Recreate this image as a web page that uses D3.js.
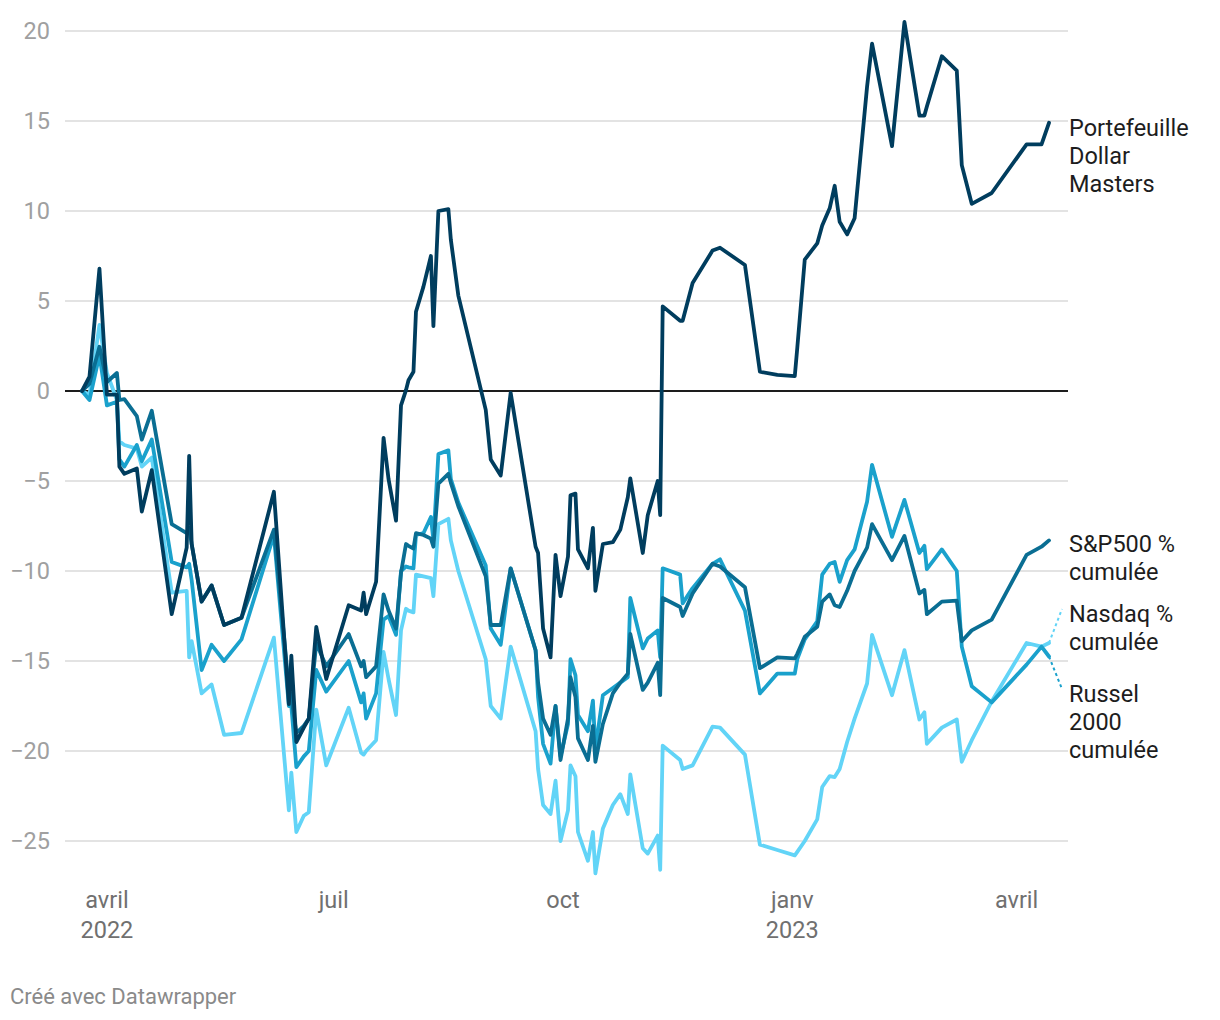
<!DOCTYPE html>
<html><head><meta charset="utf-8">
<script src="https://cdn.jsdelivr.net/npm/d3@7"></script>
<style>body{margin:0;background:#fff}svg{font-family:Roboto,sans-serif}</style>
</head><body><svg id="c" width="1220" height="1020"></svg>
<script>
const dates = ["2022-03-22","2022-03-25","2022-03-29","2022-04-01","2022-04-05","2022-04-06","2022-04-08","2022-04-13","2022-04-15","2022-04-19",
"2022-04-27","2022-05-03","2022-05-04","2022-05-05","2022-05-09","2022-05-13","2022-05-18","2022-05-25","2022-06-07","2022-06-13",
"2022-06-14","2022-06-16","2022-06-19","2022-06-21","2022-06-24","2022-06-28","2022-07-07","2022-07-12","2022-07-13","2022-07-14",
"2022-07-18","2022-07-21","2022-07-23","2022-07-26","2022-07-28","2022-07-30","2022-07-31","2022-08-02","2022-08-03","2022-08-06",
"2022-08-09","2022-08-10","2022-08-12","2022-08-16","2022-08-17","2022-08-20","2022-08-31","2022-09-02","2022-09-06","2022-09-10",
"2022-09-20","2022-09-21","2022-09-23","2022-09-26","2022-09-28","2022-09-30","2022-10-03","2022-10-04","2022-10-06","2022-10-07",
"2022-10-11","2022-10-13","2022-10-14","2022-10-17","2022-10-21","2022-10-24","2022-10-27","2022-10-28","2022-11-02","2022-11-04",
"2022-11-08","2022-11-09","2022-11-10","2022-11-17","2022-11-18","2022-11-22","2022-11-30","2022-12-03","2022-12-13","2022-12-19",
"2022-12-26","2023-01-02","2023-01-03","2023-01-06","2023-01-11","2023-01-13","2023-01-16","2023-01-18","2023-01-20","2023-01-23",
"2023-01-26","2023-01-31","2023-02-02","2023-02-10","2023-02-15","2023-02-21","2023-02-23","2023-02-24","2023-03-02","2023-03-08",
"2023-03-10","2023-03-14","2023-03-22","2023-04-05","2023-04-11","2023-04-14"];

const portfolio = [0,0.8,6.8,-0.2,-0.2,-4.2,-4.6,-4.3,-6.7,-4.4,
-12.4,-8.7,-3.6,-8.5,-11.7,-10.8,-13.0,-12.6,-5.6,-17.4,
-14.7,-19.5,-18.7,-18.2,-13.1,-16.0,-11.9,-12.2,-11.2,-12.4,
-10.6,-2.6,-4.9,-7.2,-0.8,0.05,0.6,1.07,4.4,5.8,
7.5,3.6,10.0,10.1,8.4,5.3,-1.05,-3.8,-4.7,-0.1,
-8.65,-9.0,-13.2,-14.8,-9.1,-11.4,-9.2,-5.8,-5.7,-8.8,
-9.85,-7.6,-11.1,-8.5,-8.4,-7.7,-5.9,-4.85,-9.0,-6.9,
-5.0,-6.9,4.7,3.9,3.9,6.0,7.8,7.96,7.0,1.07,
0.9,0.83,2.4,7.3,8.2,9.2,10.15,11.4,9.4,8.7,
9.6,16.9,19.3,13.6,20.5,15.3,15.3,15.8,18.6,17.8,
12.55,10.4,11.0,13.7,13.7,14.9];

const sp500 = [0,0.4,2.46,0.5,1.0,-0.5,-0.45,-1.4,-2.7,-1.1,
-7.4,-7.9,-7.6,-8.5,-11.7,-10.8,-13.0,-12.6,-7.7,-16.5,
-17.0,-19.0,-18.6,-18.2,-14.0,-15.3,-13.5,-15.3,-15.0,-15.9,
-15.3,-11.3,-12.2,-13.2,-10.1,-8.5,-8.6,-8.75,-7.9,-8.0,
-8.2,-8.65,-5.15,-4.6,-5.1,-6.4,-10.3,-13.0,-13.0,-9.85,
-14.4,-16.2,-18.2,-19.1,-17.5,-20.5,-18.2,-15.9,-17.0,-19.3,
-20.5,-18.6,-20.6,-18.5,-16.8,-16.2,-15.7,-13.5,-16.6,-16.2,
-15.1,-16.9,-11.5,-12.0,-12.5,-11.25,-9.6,-9.75,-10.9,-15.4,
-14.8,-14.85,-14.6,-13.65,-13.1,-11.7,-11.3,-11.9,-12.0,-11.1,
-10.0,-8.7,-7.4,-9.4,-8.05,-11.25,-11.05,-12.4,-11.7,-11.65,
-13.9,-13.3,-12.7,-9.1,-8.65,-8.3];

const russel = [0,-0.5,2.0,-0.8,-0.6,-3.8,-4.2,-3.0,-3.9,-2.7,
-9.5,-9.8,-9.6,-10.5,-15.5,-14.1,-15.0,-13.8,-8.0,-17.5,
-17.5,-20.9,-20.3,-20.0,-15.5,-16.7,-15.0,-17.3,-16.8,-18.2,
-16.8,-12.7,-12.5,-13.55,-10.0,-9.75,-9.8,-9.85,-8.0,-7.9,
-7.0,-8.3,-3.5,-3.3,-4.9,-6.2,-9.7,-13.2,-14.1,-9.85,
-14.4,-17.0,-19.6,-20.7,-17.5,-20.3,-18.5,-14.9,-15.8,-18.0,
-18.9,-17.2,-19.9,-16.9,-16.5,-16.2,-15.9,-11.5,-14.3,-13.75,
-13.3,-14.8,-9.85,-10.2,-11.8,-10.95,-9.6,-9.35,-12.2,-16.8,
-15.7,-15.7,-14.9,-13.8,-12.8,-10.2,-9.6,-9.5,-10.6,-9.4,
-8.8,-6.15,-4.1,-8.1,-6.05,-9.0,-8.6,-9.9,-8.8,-10.0,
-14.2,-16.4,-17.3,-15.2,-14.2,-14.75];

const nasdaq = [0,-0.2,3.67,1.0,-0.5,-2.8,-3.0,-3.2,-4.2,-3.7,
-11.2,-11.1,-14.8,-13.9,-16.8,-16.3,-19.1,-19.0,-13.7,-23.3,
-21.2,-24.5,-23.6,-23.4,-17.7,-20.8,-17.6,-20.1,-20.2,-20.0,
-19.4,-14.5,-16.0,-18.0,-13.3,-12.1,-12.2,-12.3,-10.2,-10.3,
-10.4,-11.4,-7.4,-7.1,-8.3,-10.0,-14.9,-17.5,-18.2,-14.2,
-18.9,-21.0,-23.0,-23.5,-21.65,-25.0,-23.3,-20.8,-21.4,-24.5,
-26.1,-24.5,-26.8,-24.3,-23.0,-22.4,-23.5,-21.3,-25.4,-25.7,
-24.7,-26.6,-19.7,-20.5,-21.0,-20.8,-18.65,-18.7,-20.2,-25.2,
-25.5,-25.8,-25.6,-25.0,-23.8,-22.0,-21.4,-21.45,-21.0,-19.5,
-18.2,-16.25,-13.55,-16.9,-14.4,-18.25,-17.85,-19.6,-18.7,-18.25,
-20.6,-19.4,-17.25,-14.0,-14.2,-14.0];

const yTicks = [-25,-20,-15,-10,-5,0,5,10,15,20];
const xTickDates = ["2022-04-01","2022-07-01","2022-10-01","2023-01-01","2023-04-01"];
const xTickLabels = ["avril","juil","oct","janv","avril"];
const xTickYears = ["2022","","","2023",""];

const seriesNames = ["Nasdaq","Russel","S&P500","Portefeuille"];
const seriesColors = ["#62d4f7","#1aa1cc","#0a6e93","#003d5e"];
const seriesLabels = [["Nasdaq %","cumulée"],["Russel","2000","cumulée"],["S&P500 %","cumulée"],["Portefeuille","Dollar","Masters"]];

const parse = d3.timeParse("%Y-%m-%d");
const dt = dates.map(parse);
const seriesValues = [nasdaq, russel, sp500, portfolio];

const svg = d3.select("#c");
const x = d3.scaleTime().domain([dt[0], dt[dt.length-1]]).range([82, 1049]);
const y = d3.scaleLinear().domain([-25, 20]).range([841, 31]);
const gridX0 = 65, gridX1 = 1068;
const FS = 23.5;

// grid
const g = svg.append("g");
g.selectAll("line.grid").data(yTicks).join("line")
  .attr("x1", gridX0).attr("x2", gridX1)
  .attr("y1", d=>y(d)).attr("y2", d=>y(d))
  .attr("stroke", d=> d===0 ? "#1d1d1d" : "#e3e3e3")
  .attr("stroke-width", 2);
g.selectAll("text.yt").data(yTicks).join("text")
  .attr("x", 50).attr("y", d=>y(d)).attr("dy","0.36em")
  .attr("text-anchor","end").attr("font-size", FS).attr("fill","#a0a0a0")
  .text(d=> d<0 ? "\u2212"+Math.abs(d) : d);

// x labels
const xt = svg.append("g");
xTickDates.forEach((d,i)=>{
  const px = x(parse(d));
  xt.append("text").attr("x",px).attr("y",908).attr("text-anchor","middle")
    .attr("font-size",FS).attr("fill","#707070").text(xTickLabels[i]);
  if (xTickYears[i]) xt.append("text").attr("x",px).attr("y",938).attr("text-anchor","middle")
    .attr("font-size",FS).attr("fill","#707070").text(xTickYears[i]);
});

// lines
const line = d3.line().x((d,i)=>x(dt[i])).y(d=>y(d));
seriesValues.forEach((vals,k)=>{
  svg.append("path").datum(vals).attr("d", line)
    .attr("fill","none").attr("stroke",seriesColors[k]).attr("stroke-width",3.8)
    .attr("stroke-linejoin","round").attr("stroke-linecap","round");
});

// labels
const labelX = 1069;
const labelBaselines = [622, 702, 552, 136];
const lastX = x(dt[dt.length-1]);
[[0, 609],[1, 689]].forEach(([k, ty])=>{
  const vals = seriesValues[k];
  svg.append("line").attr("x1", lastX).attr("y1", y(vals[vals.length-1]))
    .attr("x2", 1062).attr("y2", ty)
    .attr("stroke", seriesColors[k]).attr("stroke-width",2).attr("stroke-dasharray","3,3");
});
seriesLabels.forEach((lines,k)=>{
  const t = svg.append("text").attr("x",labelX).attr("y",labelBaselines[k])
    .attr("font-size",FS).attr("fill","#1d1d1d");
  lines.forEach((s,j)=> t.append("tspan").attr("x",labelX).attr("dy", j===0?0:28).text(s));
});

svg.append("text").attr("x",10).attr("y",1004).attr("font-size",22).attr("fill","#8a8a8a")
  .text("Créé avec Datawrapper");
</script></body></html>
